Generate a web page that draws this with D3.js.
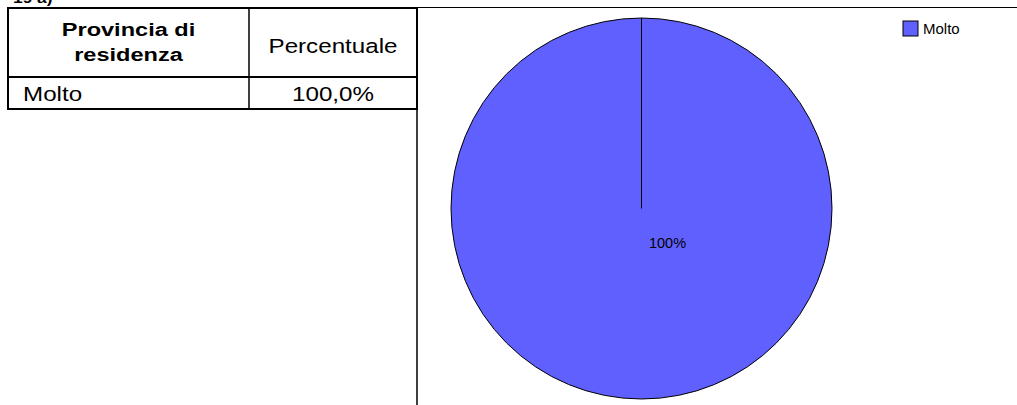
<!DOCTYPE html>
<html>
<head>
<meta charset="utf-8">
<script src="https://cdn.jsdelivr.net/npm/d3@7"></script>
<style>
  body { margin: 0; background: #fff; }
  svg { display: block; font-family: Arial, "Liberation Sans", sans-serif; }
</style>
</head>
<body>
<svg width="1017" height="405"></svg>
<script>
// data
var categories = ["Molto"];
var values = [100];
var tableHeader = ["Provincia di", "residenza"];
var tableColTitle = "Percentuale";
var tableValues = ["100,0%"];
var sliceColors = ["#6060ff"];

var svg = d3.select("svg"),
    w = 1017,
    h = 405,
    stretch = 1.24;   // table text in the reference is drawn a bit wide

// text that is widened horizontally around its anchor point
function wideText(x, y, str, size, bold, anchor) {
  return svg.append("text")
    .attr("transform", "translate(" + x + "," + y + ") scale(" + stretch + ",1)")
    .attr("font-size", size)
    .attr("font-weight", bold ? "bold" : "normal")
    .attr("text-anchor", anchor || "start")
    .text(str);
}

// clipped heading at the very top
wideText(13, 3, "19 a)", 14, true);

// ---- table ----
var tbl = {x0: 8, x1: 249, x2: 417, y0: 8, y1: 77, y2: 109};

// grid
svg.append("rect")
  .attr("x", tbl.x0).attr("y", tbl.y0)
  .attr("width", tbl.x2 - tbl.x0).attr("height", tbl.y2 - tbl.y0)
  .attr("fill", "none").attr("stroke", "#000").attr("stroke-width", 2);
svg.append("line")
  .attr("x1", tbl.x1).attr("x2", tbl.x1)
  .attr("y1", tbl.y0).attr("y2", tbl.y2)
  .attr("stroke", "#000").attr("stroke-width", 1.5);
svg.append("line")
  .attr("x1", tbl.x0).attr("x2", tbl.x2)
  .attr("y1", tbl.y1).attr("y2", tbl.y1)
  .attr("stroke", "#000").attr("stroke-width", 2);

// header text
tableHeader.forEach(function(t, i) {
  wideText((tbl.x0 + tbl.x1) / 2, 36 + i * 25, t, 19, true, "middle");
});
wideText((tbl.x1 + tbl.x2) / 2, 53, tableColTitle, 19.5, false, "middle");

// rows
categories.forEach(function(c, i) {
  wideText(23, 101 + i * 31, c, 19.5, false);
  wideText((tbl.x1 + tbl.x2) / 2, 101 + i * 31, tableValues[i], 19.5, false, "middle");
});

// ---- chart frame ----
svg.append("line")
  .attr("x1", tbl.x2).attr("x2", w)
  .attr("y1", 7.5).attr("y2", 7.5)
  .attr("stroke", "#000").attr("stroke-width", 1);
svg.append("line")
  .attr("x1", tbl.x2).attr("x2", tbl.x2)
  .attr("y1", 7).attr("y2", h)
  .attr("stroke", "#000").attr("stroke-width", 1.5);

// ---- pie ----
var cx = 641.5, cy = 208.5, r = 190.5;

var pie = d3.pie().sort(null).value(function(d) { return d; });
var arc = d3.arc().innerRadius(0).outerRadius(r);
var color = d3.scaleOrdinal().domain(categories).range(sliceColors);

var gPie = svg.append("g")
  .attr("transform", "translate(" + cx + "," + cy + ")");

var arcs = pie(values);

gPie.selectAll("path")
  .data(arcs)
  .enter()
  .append("path")
  .attr("d", arc)
  .attr("fill", function(d, i) { return color(categories[i]); })
  .attr("stroke", "#000")
  .attr("stroke-width", 1);

// slice border lines from centre (a full slice still shows its start edge)
gPie.selectAll("line.edge")
  .data(arcs)
  .enter()
  .append("line")
  .attr("class", "edge")
  .attr("x1", 0).attr("y1", 0)
  .attr("x2", function(d) { return r * Math.sin(d.startAngle); })
  .attr("y2", function(d) { return -r * Math.cos(d.startAngle); })
  .attr("stroke", "#000")
  .attr("stroke-width", 1);

// percentage labels
var labelArc = d3.arc().innerRadius(0).outerRadius(r * 0.3);
gPie.selectAll("text")
  .data(arcs)
  .enter()
  .append("text")
  .attr("x", function(d) {
    var full = d.endAngle - d.startAngle >= 2 * Math.PI - 1e-6;
    return full ? 26 : labelArc.centroid(d)[0];
  })
  .attr("y", function(d) {
    var full = d.endAngle - d.startAngle >= 2 * Math.PI - 1e-6;
    return full ? 39.5 : labelArc.centroid(d)[1];
  })
  .attr("text-anchor", "middle")
  .attr("font-size", 14.5)
  .attr("fill", "#000")
  .text(function(d) { return Math.round(d.value) + "%"; });

// ---- legend ----
var legend = svg.append("g")
  .attr("transform", "translate(903,21)");

legend.selectAll("rect")
  .data(categories)
  .enter()
  .append("rect")
  .attr("x", 0)
  .attr("y", function(d, i) { return i * 18; })
  .attr("width", 15).attr("height", 15)
  .attr("fill", function(d) { return color(d); })
  .attr("stroke", "#000")
  .attr("stroke-width", 1);

legend.selectAll("text")
  .data(categories)
  .enter()
  .append("text")
  .attr("x", 20)
  .attr("y", function(d, i) { return i * 18 + 13; })
  .attr("font-size", 15)
  .text(function(d) { return d; });
</script>
</body>
</html>
